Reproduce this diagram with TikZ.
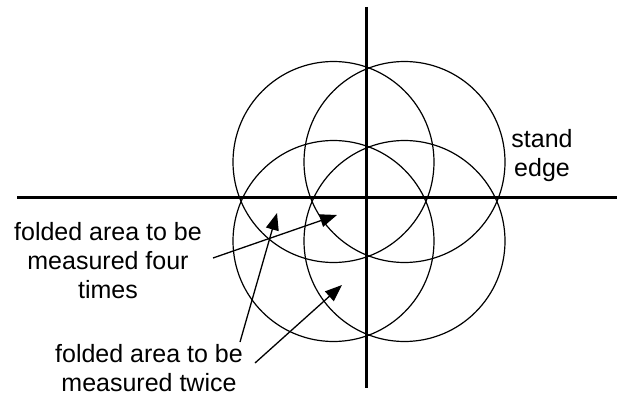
\documentclass[tikz,border=0pt]{standalone}
\usepackage{fontspec}
\setmainfont{Liberation Sans}
\usetikzlibrary{arrows.meta}
\begin{document}
\begin{tikzpicture}[x=1pt,y=-1pt,
  axis/.style={line width=3pt},
  ring/.style={line width=1.2pt},
  lbl/.style={font=\fontsize{25}{29}\selectfont, align=center, inner sep=0pt},
  ptr/.style={line width=1.3pt, -{Triangle[length=17pt,width=13pt]}}]
\useasboundingbox (0,0) rectangle (618,396);
% axes
\draw[axis] (366,7) -- (366,388);
\draw[axis] (17,197) -- (617,197);
% circles
\draw[ring] (333.5,162) circle[radius=100.5];
\draw[ring] (404.5,162) circle[radius=100.5];
\draw[ring] (333.5,241) circle[radius=100.5];
\draw[ring] (404.5,241) circle[radius=100.5];
% labels
\node[lbl] (four) at (108,261) {folded area to be\\measured four\\times};
\node[lbl] (twice) at (149,368) {folded area to be\\measured twice};
\node[lbl] (stand) at (542,156) {stand\\edge};
% arrow endpoints
\coordinate (s1) at (213,258);
\coordinate (t1) at (337,215);
\coordinate (s2) at (240,342);
\coordinate (t2) at (277,213);
\coordinate (s3) at (255,363);
\coordinate (t3) at (342,285);
\draw[ptr] (s1) -- (t1);
\draw[ptr] (s2) -- (t2);
\draw[ptr] (s3) -- (t3);
\end{tikzpicture}
\end{document}
